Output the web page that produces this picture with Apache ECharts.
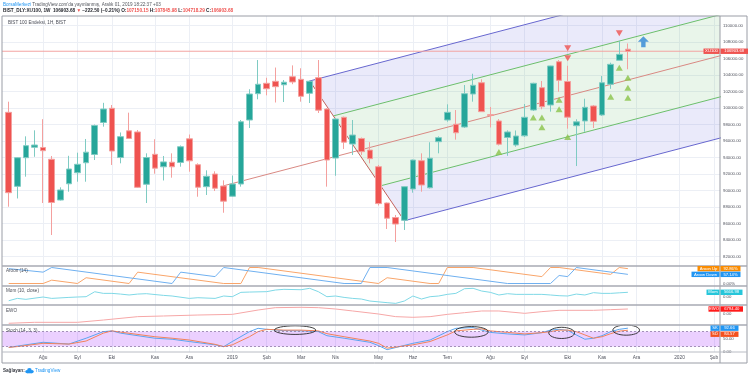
<!DOCTYPE html>
<html>
<head>
<meta charset="utf-8">
<script src="https://cdn.jsdelivr.net/npm/echarts/dist/echarts.min.js"></script>
<style>
  html, body { margin: 0; padding: 0; background: #fff; }
  #chart { width: 750px; height: 377px; }
</style>
</head>
<body>
<div id="chart"></div>
<script>
// weekly BIST 100 candles, index 0 = week of 9 Jul 2018, index 72 = week of 25 Nov 2019
var opens = [99500, 90530, 94000, 95260, 95240, 93810, 88870, 90840, 92180, 93390,
  94390, 98270, 99990, 94020, 97260, 97120, 90780, 94410, 92900, 93450,
  93420, 96290, 93150, 90490, 92020, 90570, 89330, 90810, 98570, 101760,
  103020, 103260, 102840, 103820, 103500, 101810, 103700, 99900, 93960, 98900,
  95660, 96330, 94930, 92910, 88510, 86750, 86410, 90210, 93640, 90360,
  95940, 98570, 98060, 97720, 101720, 103090, 99220, 98450, 96450, 95540,
  96650, 99780, 102490, 100390, 105640, 103240, 97880, 98450, 100270, 99180,
  102900, 105810, 107150.15];
var closes = [89760, 94000, 95460, 95540, 94850, 88570, 90090, 92630, 93200, 94670,
  97900, 99900, 94810, 96550, 96330, 90410, 94020, 92730, 93490, 92900,
  95330, 93620, 90420, 91750, 90300, 88730, 90810, 98360, 101720, 102900,
  102360, 102610, 103150, 103180, 101440, 103270, 99760, 93720, 98690, 95880,
  96750, 94730, 93880, 88440, 86660, 85960, 90490, 93720, 90690, 93940,
  96430, 99500, 97020, 101760, 102780, 99580, 99130, 95640, 97120, 96630,
  98900, 103020, 100180, 105120, 103380, 98910, 98350, 100110, 98410, 103090,
  105320, 106530, 106903.68];
var lows = [88060, 89060, 91700, 94110, 88510, 84630, 88810, 89880, 91090, 91090,
  93720, 97760, 93120, 93320, 96300, 90330, 88510, 92060, 91240, 91580,
  92910, 92300, 89270, 89480, 89960, 87330, 89240, 90490, 97600, 101080,
  101560, 100690, 100750, 102910, 100790, 100630, 99420, 90490, 91810, 95060,
  94330, 94330, 93320, 88210, 85360, 83780, 85240, 89760, 89880, 90270,
  94530, 98360, 96190, 97600, 100790, 99540, 97660, 95480, 94230, 95330,
  96510, 99660, 99870, 99580, 102000, 97520, 92990, 97140, 97600, 99060,
  102350, 105780, 104718.29];
var highs = [100790, 94050, 96590, 97320, 98670, 94210, 90410, 94230, 94610, 96270,
  98020, 100650, 100390, 97060, 99460, 97360, 94530, 96240, 94210, 94530,
  95480, 96810, 93320, 92470, 92350, 91260, 91840, 98570, 102300, 105840,
  103690, 104930, 103420, 105190, 104840, 103360, 105840, 100020, 98810, 98990,
  98570, 96450, 95880, 93120, 88570, 87060, 90510, 93780, 94530, 95870,
  96590, 100470, 99780, 102810, 104180, 103500, 100150, 98690, 97320, 97300,
  100510, 103090, 103300, 105150, 105840, 105140, 98660, 101150, 100390, 103900,
  105520, 108150, 107845.98];
var lastPrice = 106903.68;

// time axis labels (week index of first bar in each month)
var monthTicks = [4, 8, 12, 17, 21, 26, 30, 34, 38, 43, 47, 51, 56, 60, 65, 69, 73, 78, 82];
var monthNames = ['Ağu', 'Eyl', 'Eki', 'Kas', 'Ara', '2019', 'Şub', 'Mar', 'Nis', 'May', 'Haz', 'Tem',
  'Ağu', 'Eyl', 'Eki', 'Kas', 'Ara', '2020', 'Şub'];
var priceTicks = [82000, 84000, 86000, 88000, 90000, 92000, 94000, 96000, 98000, 100000,
  102000, 104000, 106000, 108000, 110000];

// pitchfork anchors (week index, price)
var pitchX = [25, 35, 46];
var pitchY = [90600, 103300, 86360];

// signal markers
var buyX = [57, 61, 62, 62, 64, 64, 65, 70, 71, 72, 72, 72];
var buyY = [94690, 98870, 98870, 97690, 101030, 99870, 96510, 101390, 104910, 103700, 102490, 101270];
var sellX = [65, 65, 71];
var sellY = [107260, 106050, 109080];
var arrowX = [73.8];
var arrowY = [108060];

// Aroon (14)
var aroonUpX = [0, 4, 5, 8, 9, 14, 15, 25, 27, 28, 29, 43, 44, 49, 50, 51, 54, 62, 63, 64, 70, 71, 72];
var aroonUpV = [0, 0, 21, 0, 36, 0, 71, 0, 0, 100, 100, 0, 36, 0, 0, 100, 100, 43, 100, 100, 57, 100, 92.86];
var aroonDnX = [0, 4, 5, 19, 20, 24, 25, 39, 41, 42, 44, 58, 63, 64, 65, 66, 72];
var aroonDnV = [93, 71, 100, 0, 71, 43, 100, 0, 0, 100, 100, 0, 0, 50, 43, 100, 57.14];

// Mom (10, close)
var momX = [0, 1, 2, 4, 5, 7, 8, 9, 10, 11, 12, 13, 14, 15, 16, 18, 19, 21, 22, 24,
  25, 26, 27, 28, 30, 31, 32, 34, 35, 36, 37, 38, 39, 40, 41, 42, 44, 45, 46, 47,
  48, 49, 50, 51, 52, 53, 54, 55, 56, 57, 58, 59, 60, 61, 62, 63, 64, 65, 66, 67,
  68, 69, 70, 71, 72];
var momV = [-5200, -2200, -3400, -400, -2200, -900, -400, 0, 6400, 4300, 4300, 3400, 2200, 3400, 3900, 1700, 900, -2200, -1300, -2200,
  900, 0, 5600, 6000, 6500, 8600, 9500, 9000, 10800, 6500, 0, 900, -900, -2200, -3000, -5600, -7700, -8600, -5600, 900,
  -3000, 0, 900, 3000, 4300, 10300, 10800, 7300, 5600, 2200, 3900, 3000, 3000, 3000, 3000, 2200, 1300, 900, 3400, 2200,
  5200, 4300, 4300, 5000, 5666.98];

// EWO
var ewoX = [0, 3, 8, 11, 15, 18, 22, 26, 29, 31, 34, 36, 38, 40, 43, 45, 47, 49, 51, 53, 55, 57, 60, 62, 64, 68, 70, 72];
var ewoV = [-12600, -11300, -11300, -8200, -3600, -2700, -1400, -500, 5400, 8600, 9100, 8600, 6800, 4100, 0,
  -3600, -4500, -3600, -500, 1800, 4100, 4100, 900, 3200, 5000, 5000, 5900, 6794.40];

// Stoch (14, 3, 3)
var kX = [0, 1, 4, 7, 9, 11, 12, 13, 17, 19, 21, 24, 25, 26, 28, 29, 30, 32, 34, 36, 37, 39, 42, 43, 44,
  47, 49, 51, 52, 54, 55, 56, 58, 60, 62, 63, 64, 65, 66, 67, 68, 69, 70, 71, 72];
var kV = [17, 22, 37, 30, 53, 79, 82, 73, 53, 49, 40, 27, 20, 40, 79, 92, 88, 83, 82, 79, 63, 53, 37, 24, 8,
  33, 46, 79, 92, 95, 85, 76, 70, 66, 75, 85, 88, 84, 66, 49, 53, 63, 79, 88, 92.66];
var dV = [17, 20, 33, 30, 42, 73, 82, 77, 59, 53, 46, 29, 20, 27, 59, 79, 88, 85, 85, 82, 71, 59, 42, 33, 14,
  27, 40, 66, 82, 88, 90, 82, 76, 70, 75, 79, 85, 85, 79, 66, 53, 59, 71, 81, 84.57];

// hand drawn ellipses on the stoch pane: centre week, centre value, half width (weeks), half height
var ringX = [33.3, 53.8, 64.3, 71.8];
var ringV = [85, 78, 74, 85];
var ringW = [2.4, 1.95, 1.5, 1.55];
var ringH = [17, 21, 22, 20];

var XMIN = -0.78, XMAX = 82.71, FORK_END = 84;
var FONT = 'Liberation Sans, Arial, sans-serif';

function pairs(xs, vs) { return xs.map(function (x, i) { return [x, vs[i]]; }); }

var candleData = opens.map(function (o, i) { return [i, o, closes[i], lows[i], highs[i]]; });

// pitchfork geometry
var midX = (pitchX[1] + pitchX[2]) / 2, midY = (pitchY[1] + pitchY[2]) / 2;
var slope = (midY - pitchY[0]) / (midX - pitchX[0]);
function forkStart(level) {
  var ex = level > 0 ? pitchX[1] : pitchX[2], ey = level > 0 ? pitchY[1] : pitchY[2];
  var a = Math.abs(level);
  return [midX + a * (ex - midX), midY + a * (ey - midY)];
}
function forkEnd(p) { return [FORK_END, p[1] + slope * (FORK_END - p[0])]; }
var s1 = forkStart(1), s05 = forkStart(0.5), sm05 = forkStart(-0.5), sm1 = forkStart(-1);
var bands = [
  { pts: [s1, forkEnd(s1), forkEnd(s05), s05], color: 'rgba(90,90,215,0.13)' },
  { pts: [s05, forkEnd(s05), forkEnd(sm05), sm05], color: 'rgba(76,175,80,0.12)' },
  { pts: [sm05, forkEnd(sm05), forkEnd(sm1), sm1], color: 'rgba(90,90,215,0.13)' }
];
function segLine(a, b, color, z) {
  return { type: 'line', xAxisIndex: 0, yAxisIndex: 0, data: [a, b], symbol: 'none', silent: true,
    lineStyle: { color: color, width: 1 }, z: z || 2, animation: false };
}

var grids = [
  { left: 2, right: 30, top: 16, height: 250 },
  { left: 2, right: 30, top: 266, height: 20 },
  { left: 2, right: 30, top: 286, height: 19 },
  { left: 2, right: 30, top: 305, height: 20 },
  { left: 2, right: 30, top: 325, height: 27 }
];
var xAxes = grids.map(function (g, i) {
  return {
    type: 'value', gridIndex: i, min: XMIN, max: XMAX,
    axisLine: { show: false },
    axisTick: { show: false, customValues: monthTicks },
    axisLabel: {
      show: i === 4, customValues: monthTicks, margin: 3,
      fontSize: 4.8, fontFamily: FONT, color: '#50535e',
      formatter: function (v) { return monthNames[monthTicks.indexOf(v)] || ''; }
    },
    splitLine: { show: true, lineStyle: { color: '#eceff5', width: 1 } }
  };
});
function indAxis(i, min, max, ticks, fmt) {
  return {
    type: 'value', gridIndex: i, position: 'right', min: min, max: max,
    axisLine: { show: false },
    axisTick: { show: false, customValues: ticks },
    splitLine: { show: false },
    axisLabel: { customValues: ticks, margin: 3, fontSize: 4.3, fontFamily: FONT, color: '#50535e', formatter: fmt }
  };
}
var yAxes = [
  {
    type: 'value', gridIndex: 0, position: 'right', min: 80874, max: 111176,
    axisLine: { show: false },
    axisTick: { show: false, customValues: priceTicks },
    axisLabel: { customValues: priceTicks, margin: 3, fontSize: 4.3, fontFamily: FONT, color: '#50535e',
      formatter: function (v) { return v.toFixed(2); } },
    splitLine: { show: true, lineStyle: { color: '#eceff5', width: 1 } }
  },
  indAxis(1, -15.6, 109.4, [0], function (v) { return v.toFixed(2) + '%'; }),
  indAxis(2, -10707, 13803, [0], function (v) { return v.toFixed(2); }),
  indAxis(3, -14949, 12231, [0], function (v) { return v.toFixed(2); }),
  indAxis(4, -1.2, 105.1, [0, 50], function (v) { return v.toFixed(2); })
];

var series = [
  {
    type: 'custom', xAxisIndex: 0, yAxisIndex: 0, clip: true, silent: true, z: 1,
    data: bands.map(function (b, i) { return [i]; }),
    renderItem: function (params, api) {
      var b = bands[params.dataIndex];
      return { type: 'polygon', shape: { points: b.pts.map(function (p) { return api.coord(p); }) },
        style: { fill: b.color } };
    }
  },
  segLine(s1, forkEnd(s1), '#6767cf'),
  segLine(s05, forkEnd(s05), '#6cbf6c'),
  segLine([pitchX[0], pitchY[0]], forkEnd([pitchX[0], pitchY[0]]), '#d98983'),
  segLine(sm05, forkEnd(sm05), '#6cbf6c'),
  segLine(sm1, forkEnd(sm1), '#6767cf'),
  segLine([pitchX[1], pitchY[1]], [pitchX[2], pitchY[2]], '#c2615b'),
  segLine([XMIN, lastPrice], [XMAX, lastPrice], '#f3a3a1', 2),
  {
    type: 'candlestick', xAxisIndex: 0, yAxisIndex: 0, data: candleData, barWidth: 6, z: 3,
    itemStyle: { color: '#26a69a', color0: '#ef5350', borderColor: '#7fcbc3', borderColor0: '#f4a09e', borderWidth: 1 }
  },
  {
    type: 'scatter', xAxisIndex: 0, yAxisIndex: 0, data: pairs(buyX, buyY), z: 4,
    symbol: 'triangle', symbolSize: [7, 6], itemStyle: { color: '#8bc34a' }, silent: true
  },
  {
    type: 'scatter', xAxisIndex: 0, yAxisIndex: 0, data: pairs(sellX, sellY), z: 4,
    symbol: 'triangle', symbolRotate: 180, symbolSize: [7, 6], itemStyle: { color: '#ef5350' }, silent: true
  },
  {
    type: 'scatter', xAxisIndex: 0, yAxisIndex: 0, data: pairs(arrowX, arrowY), z: 4, silent: true,
    symbol: 'path://M5,0 L10,5 L7,5 L7,10 L3,10 L3,5 L0,5 Z', symbolSize: [11, 11],
    itemStyle: { color: '#2f86d6' }
  },
  {
    type: 'line', xAxisIndex: 1, yAxisIndex: 1, data: pairs(aroonUpX, aroonUpV), symbol: 'none', silent: true,
    lineStyle: { color: '#f9a56a', width: 1 }
  },
  {
    type: 'line', xAxisIndex: 1, yAxisIndex: 1, data: pairs(aroonDnX, aroonDnV), symbol: 'none', silent: true,
    lineStyle: { color: '#6fb0f0', width: 1 }
  },
  {
    type: 'line', xAxisIndex: 2, yAxisIndex: 2, data: pairs(momX, momV), symbol: 'none', silent: true,
    lineStyle: { color: '#7fd8e6', width: 1 }
  },
  {
    type: 'line', xAxisIndex: 3, yAxisIndex: 3, data: pairs(ewoX, ewoV), symbol: 'none', silent: true,
    lineStyle: { color: '#f6a7a7', width: 1 }
  },
  {
    type: 'line', xAxisIndex: 4, yAxisIndex: 4, data: pairs(kX, kV), symbol: 'none', silent: true, z: 3,
    lineStyle: { color: '#5aa5ef', width: 1 },
    markArea: { silent: true, itemStyle: { color: 'rgba(153,21,255,0.2)' }, data: [[{ yAxis: 20 }, { yAxis: 80 }]] },
    markLine: {
      silent: true, symbol: 'none', label: { show: false },
      lineStyle: { color: '#8f7aa8', width: 0.8, type: [2, 2] },
      data: [{ yAxis: 20 }, { yAxis: 80 }]
    }
  },
  {
    type: 'line', xAxisIndex: 4, yAxisIndex: 4, data: pairs(kX, dV), symbol: 'none', silent: true, z: 3,
    lineStyle: { color: '#f2825a', width: 1 }
  },
  {
    type: 'custom', xAxisIndex: 4, yAxisIndex: 4, silent: true, z: 5,
    data: ringX.map(function (x, i) { return [x, ringV[i], ringW[i], ringH[i]]; }),
    renderItem: function (params, api) {
      var c = api.coord([api.value(0), api.value(1)]);
      var e = api.coord([api.value(0) + api.value(2), api.value(1) + api.value(3)]);
      return { type: 'ellipse', shape: { cx: c[0], cy: c[1], rx: Math.abs(e[0] - c[0]), ry: Math.abs(e[1] - c[1]) },
        style: { fill: null, stroke: '#2a2a2a', lineWidth: 0.9 } };
    }
  }
];

var chart = echarts.init(document.getElementById('chart'));
chart.setOption({ animation: false, grid: grids, xAxis: xAxes, yAxis: yAxes, series: series });

// value tags on the right axis
function tag(y, name, nameW, value, valueW, color) {
  var h = 5.4, out = [];
  if (name) {
    out.push({ type: 'rect', shape: { x: 719.5 - nameW, y: y - h / 2, width: nameW, height: h }, style: { fill: color }, z: 100 });
    out.push({ type: 'text', x: 719.5 - nameW / 2, y: y, z: 101,
      style: { text: name, fill: '#fff', fontSize: 4.2, fontFamily: FONT, align: 'center', verticalAlign: 'middle' } });
  }
  out.push({ type: 'rect', shape: { x: 720.5, y: y - h / 2, width: valueW, height: h }, style: { fill: color }, z: 100 });
  out.push({ type: 'text', x: 720.5 + valueW / 2, y: y, z: 101,
    style: { text: value, fill: '#fff', fontSize: 4.2, fontFamily: FONT, align: 'center', verticalAlign: 'middle' } });
  return out;
}
function py(axis, v) { return chart.convertToPixel({ yAxisIndex: axis }, v); }
function hline(y, w, c) {
  return { type: 'line', shape: { x1: 2, y1: y, x2: 747, y2: y }, style: { stroke: c || '#a7aab3', lineWidth: w || 1.5 }, z: 99 };
}
function label(x, y, text, opts) {
  opts = opts || {};
  return { type: 'text', x: x, y: y, z: 102, style: { text: text, fill: opts.color || '#4a4d57', fontSize: opts.size || 4.6,
    fontFamily: FONT, fontWeight: opts.weight || 'normal', verticalAlign: 'middle', rich: opts.rich } };
}

var g = [];
g.push({ type: 'rect', shape: { x: 2, y: 16, width: 745, height: 347 }, style: { fill: null, stroke: '#9a9da6', lineWidth: 1 }, z: 99 });
g.push({ type: 'line', shape: { x1: 720, y1: 16, x2: 720, y2: 363 }, style: { stroke: '#9a9da6', lineWidth: 1 }, z: 99 });
[266, 286, 305, 325].forEach(function (y) { g.push(hline(y)); });
g.push(hline(352, 1, '#b9bcc4'));

g.push(label(3, 4.5, '{b|BorsaMerkezi} {t|TradingView.com\'da yayınlanmış, Aralık 01, 2019 18:22:37 +03}', {
  rich: { b: { fill: '#2196f3', color: '#2196f3', fontSize: 4.6, fontFamily: FONT },
    t: { fill: '#55585f', color: '#55585f', fontSize: 4.6, fontFamily: FONT } } }));
var rb = { fontSize: 4.7, fontFamily: FONT, fontWeight: 'bold' };
function rs(c) { return Object.assign({ fill: c, color: c }, rb); }
g.push(label(3, 10.8, '{k|BIST_DLY:XU100, 1W  106903.68} {r|▼} {k|−222.50 (−0.21%) O:}{r|107150.15} {k|H:}{r|107845.98} {k|L:}{r|104718.29} {k|C:}{r|106903.68}', {
  rich: { k: rs('#1f2128'), r: rs('#ef5350') } }));
g.push(label(8, 23.2, 'BIST 100 Endeksi, 1H, BIST'));
g.push(label(6, 271, 'Aroon (14)'));
g.push(label(6, 291, 'Mom (10, close)'));
g.push(label(6, 310.5, 'EWO'));
g.push(label(6, 331, 'Stoch (14, 3, 3)'));
g.push(label(3, 371, 'Sağlayan:', { weight: 'bold', color: '#3a3d45' }));
g.push({ type: 'circle', shape: { cx: 27, cy: 371.6, r: 1.7 }, style: { fill: '#2196f3' }, z: 102 });
g.push({ type: 'circle', shape: { cx: 29.4, cy: 370.4, r: 2.3 }, style: { fill: '#2196f3' }, z: 102 });
g.push({ type: 'circle', shape: { cx: 32, cy: 371.6, r: 1.7 }, style: { fill: '#2196f3' }, z: 102 });
g.push({ type: 'rect', shape: { x: 27, y: 371.5, width: 5, height: 1.8 }, style: { fill: '#2196f3' }, z: 102 });
g.push(label(35, 371, 'TradingView', { color: '#2196f3' }));

g = g.concat(tag(py(0, lastPrice), 'XU100', 16, '106903.68', 27.5, '#ef5350'));
g = g.concat(tag(py(1, 92.86), 'Aroon Up', 22, '92.86%', 20, '#fb8c00'));
g = g.concat(tag(py(1, 57.14), 'Aroon Down', 28, '57.14%', 20, '#2196f3'));
g = g.concat(tag(py(2, 5666.98), 'Mom', 13, '5666.98', 22, '#26c6da'));
g = g.concat(tag(py(3, 6794.40), 'EWO', 11, '6794.40', 22.5, '#ff1a1a'));
g = g.concat(tag(py(4, 92.66), 'SK', 9, '92.66', 18, '#2196f3'));
g = g.concat(tag(py(4, 84.57) + 4, 'SD', 9, '84.57', 18, '#f4511e'));

chart.setOption({ graphic: g });
</script>
</body>
</html>
